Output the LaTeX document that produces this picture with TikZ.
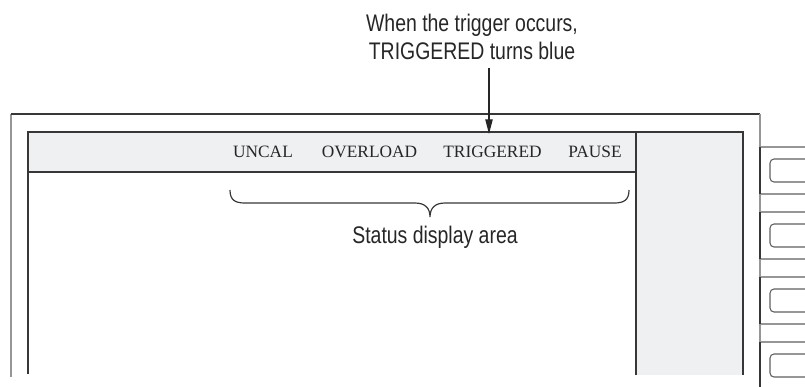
\documentclass[tikz,border=0pt]{standalone}
\usepackage{fontspec}
\setmainfont{Liberation Serif}
\newfontfamily\condsf[FakeStretch=0.81]{Liberation Sans}
\usepackage{tikz}
\usetikzlibrary{arrows.meta,positioning}
\definecolor{panelgray}{RGB}{239,240,242}
\definecolor{framegray}{RGB}{150,150,150}
\definecolor{edgedark}{RGB}{55,55,55}
\tikzset{
  panel/.style={draw=edgedark,line width=1.1pt,fill=panelgray},
  statustxt/.style={font=\fontsize{13}{15}\selectfont,anchor=base,inner sep=0pt,text=black!85},
  callout/.style={font=\condsf\fontsize{18}{21}\selectfont,align=center,inner sep=0pt,text=black!85},
  pointer/.style={-{Triangle[length=11pt,width=5.5pt]},line width=0.9pt,black!85},
}

\begin{document}
\begin{tikzpicture}[x=0.75pt,y=-0.75pt]
  % 1 unit = 1px of the 805x386 layout, y runs downward
  \useasboundingbox (0,0) rectangle (805,386);
  % outer bezel, open at the bottom
  \draw[framegray,line width=1.2pt] (11,377) -- (11,114);
  \draw[edgedark,line width=0.9pt] (11,114) -- (760,114);
  \draw[framegray,line width=1.2pt] (760,114) -- (760,386);
  % screen: status bar on top, side menu on the right
  \draw[edgedark,line width=1.1pt] (28,374) -- (28,132);
  \filldraw[panel] (28,132) rectangle (636,172);
  \filldraw[panel] (636,375) -- (636,132) -- (743,132) -- (743,375);
  % bezel keys, cut by the right edge
  \foreach \t in {147,212,277,342} {
    \draw[framegray,line width=0.9pt] (806,\t) -- (760,\t) (760,{\t+47}) -- (806,{\t+47});
    \draw[edgedark,line width=1.1pt] (760,\t) -- (760,{\t+47});
    \draw[edgedark!80,line width=0.8pt,rounded corners=3pt] (806,{\t+12}) -- (770,{\t+12}) -- (770,{\t+35}) -- (806,{\t+35});
  }
  % status words
  \foreach \x/\lbl in {263/UNCAL,369.5/OVERLOAD,492.5/TRIGGERED,595/PAUSE}
    \node[statustxt] (st\lbl) at (\x,157) {\lbl};
  % callout with arrow down onto the bar
  \node[callout,anchor=north] (note) at (472,14) {When the trigger occurs,\\TRIGGERED turns blue};
  \coordinate (trigtip) at (489,134);
  \draw[pointer,shorten <=6pt] (note.south -| trigtip) -- (trigtip);
  % brace under the status words
  \draw[edgedark,line width=0.9pt] (230,190) .. controls (230,200) and (235,203) .. (245,203) -- (415,203)
    .. controls (425,203) and (430,208) .. (430,217) .. controls (430,208) and (435,203) .. (445,203)
    -- (614,203) .. controls (624,203) and (629,200) .. (629,190);
  \node[callout,anchor=base] (arealbl) at (435,243) {Status display area};
\end{tikzpicture}
\end{document}
